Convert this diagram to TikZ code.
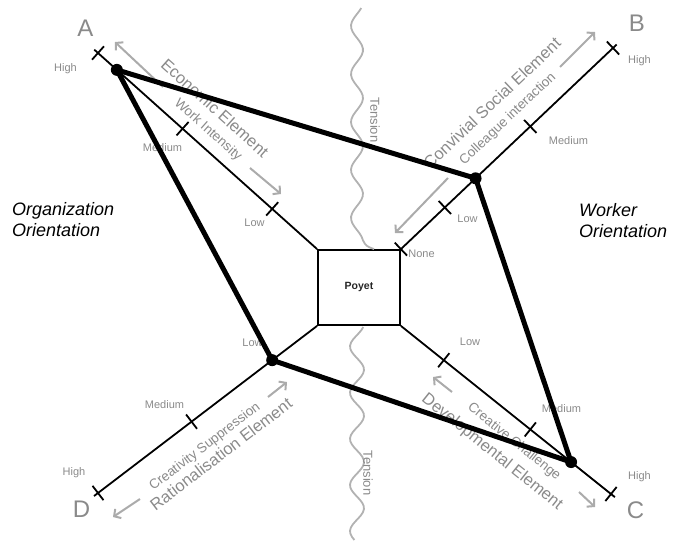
\documentclass[tikz,border=0pt]{standalone}
\usepackage{fontspec}
\setmainfont{Liberation Sans}
\usetikzlibrary{calc,arrows.meta}
\definecolor{labelgray}{HTML}{8A8A8A}
\definecolor{arrowgray}{HTML}{ABABAB}
\definecolor{wavegray}{HTML}{B2B2B2}
\newcommand{\axistick}[2]{\draw[tickmark] ($(#1)!9pt!90:(#2)$) -- ($(#1)!9pt!-90:(#2)$);}
\begin{document}
\begin{tikzpicture}[x=1pt,y=-1pt,
  axisline/.style={line width=1.8pt, black},
  tickmark/.style={line width=1.8pt, black},
  profile/.style={line width=5pt, black, line join=round},
  scoredot/.style={circle, fill=black, inner sep=0pt, minimum size=12pt},
  levellabel/.style={text=labelgray, font=\fontsize{11}{13}\selectfont, inner sep=0pt},
  cornerlabel/.style={text=labelgray, font=\fontsize{24}{28}\selectfont, inner sep=0pt},
  elementlabel/.style={text=labelgray, font=\fontsize{16.5}{19}\selectfont, inner sep=0pt},
  aspectlabel/.style={text=labelgray, font=\fontsize{13.5}{16}\selectfont, inner sep=0pt},
  orientlabel/.style={font=\fontsize{18}{21}\selectfont\itshape, align=left, inner sep=0pt},
  tensionlabel/.style={text=labelgray, font=\fontsize{13}{15}\selectfont, rotate=-90, inner sep=0pt},
  hint/.style={arrowgray, line width=2pt, -{Straight Barb[length=5pt,width=11pt]}},
  wave/.style={wavegray, line width=1.8pt},
]
\useasboundingbox (0,0) rectangle (673,541);

% central box
\node[draw, line width=1.8pt, minimum width=82pt, minimum height=75pt, inner sep=0pt,
      font=\fontsize{10.5}{12}\selectfont\bfseries, text=black!85] (poyet) at (359,287.5) {\raisebox{2.5pt}{Poyet}};

% the tension boundary
\draw[wave] plot[smooth, domain=8:240, samples=70] ({357+6*sin(7.5*(\x-38))}, \x)
  .. controls (366,246) .. (poyet.north -| 374,0);
\draw[wave] plot[smooth, domain=327:540, samples=70] ({357+7*sin(7.8*(\x-312))}, \x);
\node[tensionlabel] (tensiontop) at (375,120) {Tension};
\node[tensionlabel] (tensionbot) at (368,473) {Tension};

% orientation captions
\node[orientlabel, anchor=west] (orgorient) at (12,220) {Organization\\Orientation};
\node[orientlabel, anchor=west] (wrkorient) at (579,221) {Worker\\Orientation};

% axis end points
\coordinate (Aend) at (98,53);
\coordinate (Bend) at (613,48);
\coordinate (Cend) at (611,494);
\coordinate (Dend) at (98,493);

% tick positions
\coordinate (Alow) at ($(poyet.north west)!0.205!(Aend)$);
\coordinate (Amed) at ($(poyet.north west)!0.614!(Aend)$);
\coordinate (Blow) at ($(poyet.north east)!0.207!(Bend)$);
\coordinate (Bmed) at ($(poyet.north east)!0.61!(Bend)$);
\coordinate (Clow) at ($(poyet.south east)!0.204!(Cend)$);
\coordinate (Cmed) at ($(poyet.south east)!0.616!(Cend)$);
\coordinate (Dlow) at ($(poyet.south west)!0.205!(Dend)$);
\coordinate (Dmed) at ($(poyet.south west)!0.573!(Dend)$);

% element and aspect captions
\node[elementlabel, rotate=-41.8] (econ) at (215,108) {Economic Element};
\node[aspectlabel, rotate=-41.8] (workint) at (208,130) {Work Intensity};
\node[elementlabel, rotate=43.5] (conviv) at (492,103) {Convivial Social Element};
\node[aspectlabel, rotate=43.5] (colleague) at (508,119) {Colleague interaction};
\node[elementlabel, rotate=-38.7] (develop) at (492,452) {Developmental Element};
\node[aspectlabel, rotate=-38.7] (creative) at (514,442) {Creative Challenge};
\node[elementlabel, rotate=37.4] (rational) at (221,454) {Rationalisation Element};
\node[aspectlabel, rotate=37.4] (creasup) at (205,447) {Creativity Suppression};

% direction hints
\coordinate (hA1) at (163,87);  \coordinate (hA1t) at (115,42);
\coordinate (hA2) at (250,168); \coordinate (hA2t) at (281,194);
\coordinate (hB1) at (560,67);  \coordinate (hB1t) at (595,32);
\coordinate (hB2) at (448,178); \coordinate (hB2t) at (395,233);
\coordinate (hC1) at (452,392); \coordinate (hC1t) at (433,377);
\coordinate (hC2) at (579,492); \coordinate (hC2t) at (595,507);
\coordinate (hD1) at (140,499); \coordinate (hD1t) at (113,517);
\coordinate (hD2) at (268,397); \coordinate (hD2t) at (287,382);
\foreach \h in {A1,A2,B1,B2,C1,C2,D1,D2} \draw[hint] (h\h) -- (h\h t);

% level labels
\node[levellabel] (lAhigh) at (65.5,68.5) {High};
\node[levellabel] (lAmed) at (162.5,148) {Medium};
\node[levellabel] (lAlow) at (254.5,223) {Low};
\node[levellabel] (lBhigh) at (639.5,61) {High};
\node[levellabel] (lBmed) at (568.5,141) {Medium};
\node[levellabel] (lBlow) at (467.5,218.5) {Low};
\node[levellabel] (lBnone) at (421.5,254) {None};
\node[levellabel] (lChigh) at (639.5,477) {High};
\node[levellabel] (lCmed) at (561.5,408.5) {Medium};
\node[levellabel] (lClow) at (470,341.5) {Low};
\node[levellabel] (lDhigh) at (74,473) {High};
\node[levellabel] (lDmed) at (164.5,404.5) {Medium};
\node[levellabel] (lDlow) at (252.5,343) {Low};

% corner letters
\node[cornerlabel] (capA) at (85.5,28.5) {A};
\node[cornerlabel] (capB) at (637,23.5) {B};
\node[cornerlabel] (capC) at (635.5,510) {C};
\node[cornerlabel] (capD) at (81.5,509) {D};

% axes
\draw[axisline] (poyet.north west) -- ($(Aend)!-5pt!(poyet.north west)$);
\draw[axisline] (poyet.north east) -- ($(Bend)!-5pt!(poyet.north east)$);
\draw[axisline] (poyet.south east) -- ($(Cend)!-5pt!(poyet.south east)$);
\draw[axisline] (poyet.south west) -- ($(Dend)!-5pt!(poyet.south west)$);

% ticks
\axistick{Aend}{poyet.north west}
\axistick{Amed}{poyet.north west}
\axistick{Alow}{poyet.north west}
\axistick{Bend}{poyet.north east}
\axistick{Bmed}{poyet.north east}
\axistick{Blow}{poyet.north east}
\axistick{poyet.north east}{Bend}
\axistick{Cend}{poyet.south east}
\axistick{Cmed}{poyet.south east}
\axistick{Clow}{poyet.south east}
\axistick{Dend}{poyet.south west}
\axistick{Dmed}{poyet.south west}

% score points and profile
\node[scoredot] (dA) at ($(poyet.north west)!0.914!(Aend)$) {};
\node[scoredot] (dB) at ($(poyet.north east)!0.352!(Bend)$) {};
\node[scoredot] (dC) at ($(poyet.south east)!0.81!(Cend)$) {};
\node[scoredot] (dD) at (Dlow) {};
\draw[profile] (dA.center) -- (dB.center) -- (dC.center) -- (dD.center) -- cycle;
\end{tikzpicture}
\end{document}
